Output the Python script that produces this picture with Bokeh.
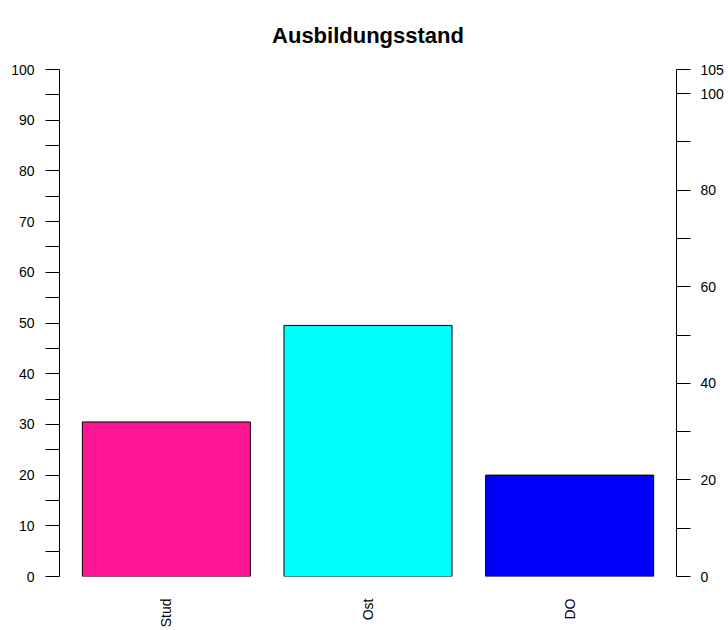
import math

from bokeh.plotting import figure
from bokeh.models import Range1d, FactorRange, LinearAxis, FixedTicker, ColumnDataSource
from bokeh.embed import file_html
from bokeh.resources import INLINE

# Education level of the sample (percent of n = 105)
categories = ["Stud", "Ost", "DO"]
percent = [30.48, 49.52, 20.0]
bar_colors = ["#FF1493", "#00FFFF", "#0000FF"]

# Left axis: percent, right axis: counts
left_ticks = list(range(0, 101, 5))
left_labels = list(range(0, 101, 10))
right_ticks = [0, 10, 20, 30, 40, 50, 60, 70, 80, 90, 100, 105]
right_labels = [0, 20, 40, 60, 80, 100, 105]
total_n = 105

title_text = "Ausbildungsstand"

FONT = "Liberation Sans"
LABEL_SIZE = "14px"

source = ColumnDataSource(data=dict(cat=categories, pct=percent, color=bar_colors))

p = figure(
    width=728,
    height=630,
    x_range=FactorRange(factors=categories, range_padding=0.03, range_padding_units="absolute"),
    y_range=Range1d(0, 100),
    output_backend="svg",
    toolbar_location=None,
    min_border_left=59,
    min_border_right=52,
    min_border_top=69,
    min_border_bottom=53,
    title=title_text,
)

p.vbar(x="cat", top="pct", width=1 / 1.2, bottom=0, source=source,
       fill_color="color", line_color="black", line_width=1)

p.title.align = "center"
p.title.vertical_align = "top"
p.title.text_font = FONT
p.title.text_font_size = "22px"
p.title.text_font_style = "bold"
p.title.text_color = "black"
p.title.standoff = 40

p.xgrid.visible = False
p.ygrid.visible = False
p.outline_line_color = None
p.background_fill_color = "white"
p.border_fill_color = "white"

# left percent axis
ya = p.yaxis[0]
ya.ticker = FixedTicker(ticks=left_ticks)
ya.major_label_overrides = {t: ("" if t not in left_labels else str(t)) for t in left_ticks}
ya.major_tick_out = 14
ya.major_tick_in = 0
ya.minor_tick_line_color = None
ya.major_label_standoff = 11
ya.major_label_orientation = "horizontal"
ya.major_label_text_font = FONT
ya.major_label_text_font_size = LABEL_SIZE
ya.major_label_text_color = "black"
ya.axis_line_color = "black"
ya.major_tick_line_color = "black"

# right count axis
p.extra_y_ranges = {"n": Range1d(0, total_n)}
ra = LinearAxis(y_range_name="n")
ra.ticker = FixedTicker(ticks=right_ticks)
ra.major_label_overrides = {t: ("" if t not in right_labels else str(t)) for t in right_ticks}
ra.major_tick_out = 14
ra.major_tick_in = 0
ra.minor_tick_line_color = None
ra.major_label_standoff = 10
ra.major_label_orientation = "horizontal"
ra.major_label_text_font = FONT
ra.major_label_text_font_size = LABEL_SIZE
ra.major_label_text_color = "black"
ra.axis_line_color = "black"
ra.major_tick_line_color = "black"
p.add_layout(ra, "right")

# category axis
xa = p.xaxis[0]
xa.axis_line_color = None
xa.major_tick_line_color = None
xa.minor_tick_line_color = None
xa.major_tick_out = 0
xa.major_label_standoff = 22
xa.major_label_orientation = math.pi / 2
xa.major_label_text_font = FONT
xa.major_label_text_font_size = LABEL_SIZE
xa.major_label_text_color = "black"

open("out.html", "w").write(file_html(p, INLINE))
